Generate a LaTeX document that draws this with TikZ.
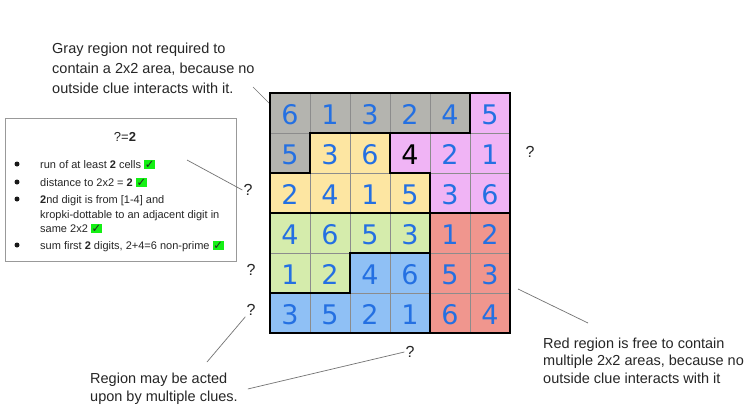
\documentclass[tikz,border=0pt]{standalone}
\usepackage{fontspec}
\setmainfont{Liberation Sans}
\newfontfamily\digitfont{DejaVu Sans}
\newfontfamily\symfont{DejaVu Sans}
\definecolor{regGray}{RGB}{180,180,175}
\definecolor{regPink}{RGB}{240,180,245}
\definecolor{regYellow}{RGB}{253,230,162}
\definecolor{regGreen}{RGB}{213,236,172}
\definecolor{regBlue}{RGB}{143,192,245}
\definecolor{regRed}{RGB}{240,150,142}
\definecolor{digitBlue}{RGB}{36,112,226}
\definecolor{chkgreen}{RGB}{20,240,20}
\newcommand\chk{{\setlength\fboxsep{0.8pt}\colorbox{chkgreen}{\symfont\fontsize{11.5}{11.5}\selectfont ✓}}}
\tikzset{
  digit/.style={font=\digitfont\fontsize{27}{27}\selectfont,text=digitBlue,inner sep=0pt},
  qmark/.style={font=\fontsize{16}{16}\selectfont,text=black!85,inner sep=1pt},
  note/.style={align=left,anchor=north west,inner sep=0pt,text=black!85},
  boxtxt/.style={font=\fontsize{11}{14}\selectfont,anchor=base west,inner sep=0pt,text=black!85},
  pointer/.style={draw=black!55,line width=0.7pt},
  border/.style={line width=2.6pt,line join=miter},
}
\begin{document}
\begin{tikzpicture}[x=1pt,y=-1pt]
\path[fill=white,use as bounding box] (0,0) rectangle (750,410);
% notes
\node[note,font=\fontsize{14.5}{20}\selectfont] (graytxt) at (52,42.5)
  {Gray region not required to\\contain a 2x2 area, because no\\outside clue interacts with it.};
\node[note,font=\fontsize{14.5}{17.5}\selectfont] (redtxt) at (543,337.5)
  {Red region is free to contain\\multiple 2x2 areas, because no\\outside clue interacts with it};
\node[note,font=\fontsize{14.5}{18}\selectfont] (regiontxt) at (90,373)
  {Region may be acted\\upon by multiple clues.};
\coordinate (graytip) at (253,87);
\coordinate (gridtip) at (272,106);
\draw[pointer] (graytip) -- (gridtip);
% the grid
\begin{scope}[xshift=270pt,yshift=-93pt,x=40pt,y=-40pt]
\foreach \col/\pts in {
  regGray/{(0,0)--(5,0)--(5,1)--(1,1)--(1,2)--(0,2)--cycle},
  regPink/{(5,0)--(6,0)--(6,3)--(4,3)--(4,2)--(3,2)--(3,1)--(5,1)--cycle},
  regYellow/{(1,1)--(3,1)--(3,2)--(4,2)--(4,3)--(0,3)--(0,2)--(1,2)--cycle},
  regGreen/{(0,3)--(4,3)--(4,4)--(2,4)--(2,5)--(0,5)--cycle},
  regBlue/{(2,4)--(4,4)--(4,6)--(0,6)--(0,5)--(2,5)--cycle},
  regRed/{(4,3)--(6,3)--(6,6)--(4,6)--cycle}}
  \fill[\col] \pts;
\foreach \i in {1,...,5} {
  \draw[black!45,line width=0.8pt] (\i,0) -- (\i,6);
  \draw[black!45,line width=0.8pt] (0,\i) -- (6,\i);
}
\foreach \pts in {
  {(0,0)--(5,0)--(5,1)--(1,1)--(1,2)--(0,2)--cycle},
  {(5,0)--(6,0)--(6,3)--(4,3)--(4,2)--(3,2)--(3,1)--(5,1)--cycle},
  {(1,1)--(3,1)--(3,2)--(4,2)--(4,3)--(0,3)--(0,2)--(1,2)--cycle},
  {(0,3)--(4,3)--(4,4)--(2,4)--(2,5)--(0,5)--cycle},
  {(2,4)--(4,4)--(4,6)--(0,6)--(0,5)--(2,5)--cycle},
  {(4,3)--(6,3)--(6,6)--(4,6)--cycle}}
  \draw[border] \pts;
\foreach \row [count=\r from 0] in {{6,1,3,2,4,5},{5,3,6,{\color{black}4},2,1},{2,4,1,5,3,6},
    {4,6,5,3,1,2},{1,2,4,6,5,3},{3,5,2,1,6,4}}
  \foreach \d [count=\c from 0] in \row
    \node[digit] (d\r\c) at (\c+0.5,\r+0.54) {\d};
\end{scope}
% clue box
\node[draw=black!40,line width=0.8pt,minimum width=231pt,minimum height=143pt,anchor=north west,inner sep=0pt] (cluebox) at (5,118) {};
\node[font=\fontsize{13}{13}\selectfont,text=black!85] (cluetitle) at (125,137) {?=\textbf{2}};
\foreach \y in {164,182,199,245}
  \fill[black!90] (17,\y) circle (2.5);
\node[boxtxt] (l1) at (40,168) {run of at least \textbf{2} cells \chk};
\node[boxtxt] (l2) at (40,186) {distance to 2x2 = \textbf{2} \chk};
\node[boxtxt] (l3) at (40,203) {\textbf{2}nd digit is from [1-4] and};
\node[boxtxt] (l4) at (40,218) {kropki-dottable to an adjacent digit in};
\node[boxtxt] (l5) at (40,232) {same 2x2 \chk};
\node[boxtxt] (l6) at (40,249) {sum first \textbf{2} digits, 2+4=6 non-prime \chk};
% question marks
\node[qmark] (qbox) at (248,190) {?};
\node[qmark] (qrow5) at (251,270) {?};
\node[qmark] (qrow6) at (251,310) {?};
\node[qmark] (qright) at (530,152) {?};
\node[qmark] (qbottom) at (410,352) {?};
\coordinate (boxtip) at (187,160);
\coordinate (regtip) at (207,362);
\coordinate (redtip) at (518,289);
\coordinate (redend) at (588,323);
\draw[pointer] (boxtip) -- (qbox.west);
\draw[pointer] (qrow6.south west) -- (regtip);
\draw[pointer] ([xshift=10pt]regiontxt.east) -- (qbottom.west);
\draw[pointer] (redtip) -- (redend);
\end{tikzpicture}
\end{document}
